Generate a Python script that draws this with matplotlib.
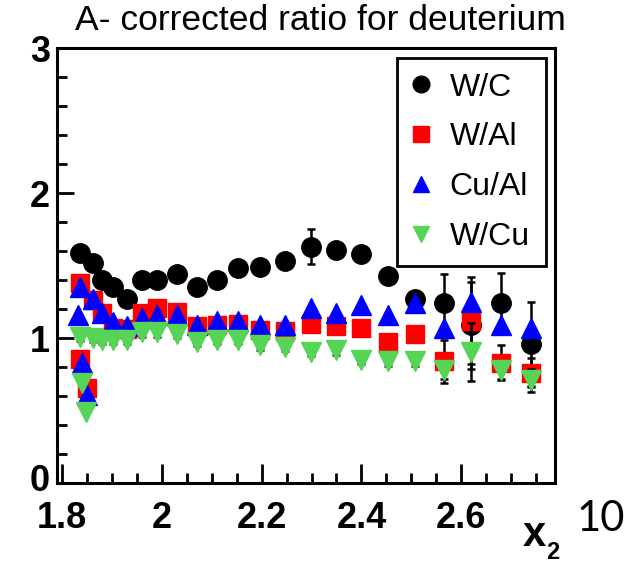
import matplotlib
matplotlib.use("Agg")
import matplotlib.pyplot as plt
from matplotlib import font_manager
from matplotlib.lines import Line2D
from matplotlib.ticker import MultipleLocator
from matplotlib.transforms import ScaledTranslation

# bin centres shared by all four ratios
x_bins = [1.837, 1.863, 1.880, 1.903, 1.930, 1.960, 1.990, 2.030, 2.070, 2.110, 2.153,
          2.197, 2.247, 2.298, 2.350, 2.400, 2.453, 2.507, 2.565, 2.620, 2.680, 2.740]

w_c = [1.59, 1.52, 1.40, 1.35, 1.27, 1.40, 1.40, 1.44, 1.35, 1.40, 1.48,
       1.49, 1.53, 1.63, 1.61, 1.58, 1.43, 1.27, 1.24, 1.09, 1.24, 0.96]
w_c_err = [0.03, 0.03, 0.03, 0.03, 0.03, 0.03, 0.03, 0.03, 0.03, 0.03, 0.03,
           0.03, 0.03, 0.12, 0.04, 0.04, 0.05, 0.05, 0.20, 0.30, 0.21, 0.29]

w_al = [1.38, 1.26, 1.17, 1.07, 1.06, 1.17, 1.21, 1.18, 1.08, 1.09, 1.10,
        1.055, 1.05, 1.10, 1.08, 1.07, 0.975, 1.03, 0.84, 1.12, 0.83, 0.76]
w_al_err = [0.03, 0.03, 0.03, 0.03, 0.03, 0.03, 0.03, 0.03, 0.03, 0.03, 0.03,
            0.03, 0.03, 0.03, 0.03, 0.03, 0.03, 0.04, 0.15, 0.30, 0.12, 0.10]

cu_al = [1.35, 1.27, 1.17, 1.11, 1.08, 1.14, 1.16, 1.16, 1.09, 1.12, 1.12,
         1.09, 1.09, 1.205, 1.17, 1.23, 1.16, 1.24, 1.07, 1.25, 1.09, 1.07]

w_cu = [1.01, 1.00, 0.99, 0.99, 0.99, 1.04, 1.04, 1.03, 0.975, 0.99, 0.99,
        0.95, 0.94, 0.905, 0.915, 0.85, 0.84, 0.84, 0.78, 0.905, 0.78, 0.71]
w_cu_err = [0.03, 0.03, 0.03, 0.03, 0.03, 0.03, 0.03, 0.03, 0.03, 0.03, 0.03,
            0.03, 0.03, 0.03, 0.03, 0.03, 0.03, 0.03, 0.06, 0.20, 0.06, 0.08]

# extra low points in the first bins
w_al_low_x = [1.837, 1.850]
w_al_low = [0.855, 0.655]
cu_al_low_x = [1.833, 1.840, 1.850]
cu_al_low = [1.16, 0.826, 0.607]
w_cu_low_x = [1.840, 1.849]
w_cu_low = [0.688, 0.49]

green = "#55d455"


def pick_font(names):
    for name in names:
        try:
            font_manager.findfont(name, fallback_to_default=False)
            return name
        except ValueError:
            pass
    return "DejaVu Sans"


narrow = pick_font(["Liberation Sans Narrow", "Liberation Sans", "Arial"])
regular = pick_font(["Liberation Sans", "Arial"])

fig = plt.figure(figsize=(6.41, 5.64), dpi=100)
ax = fig.add_axes([0.0885, 0.1436, 0.777, 0.771])

eb = dict(capsize=3, elinewidth=1.8, capthick=1.8, ecolor="black")
ax.errorbar(x_bins, w_c, yerr=w_c_err, fmt="o", color="black", ms=14, zorder=2, **eb)
ax.errorbar(x_bins, w_al, yerr=w_al_err, fmt="s", color="red", ms=13, zorder=3, **eb)
ax.plot(w_al_low_x, w_al_low, "s", color="red", ms=13, zorder=3)
ax.plot(x_bins, cu_al, "^", color="blue", ms=15, zorder=4)
ax.plot(cu_al_low_x, cu_al_low, "^", color="blue", ms=15, zorder=4)
ax.errorbar(x_bins, w_cu, yerr=w_cu_err, fmt="v", color=green, ms=15, zorder=5, **eb)
ax.plot(w_cu_low_x, w_cu_low, "v", color=green, ms=15, zorder=5)

ax.set_xlim(1.79, 2.787)
ax.set_ylim(0, 3)
ax.xaxis.set_minor_locator(MultipleLocator(0.05))
ax.yaxis.set_minor_locator(MultipleLocator(0.2))
ax.set_xticks([1.8, 2.0, 2.2, 2.4, 2.6])
ax.set_xticklabels(["1.8", "2", "2.2", "2.4", "2.6"])
ax.set_yticks([0, 1, 2, 3])
ax.set_yticklabels(["0", "1", "2", "3"])
ax.tick_params(which="both", direction="in", top=False, right=False, width=2)
ax.tick_params(axis="x", which="major", length=14, labelsize=26, pad=13)
ax.tick_params(axis="y", which="major", length=12, labelsize=26, pad=5)
ax.tick_params(which="minor", length=7)
for lab in ax.get_xticklabels() + ax.get_yticklabels():
    lab.set_family(narrow)
    lab.set_fontweight("bold")
# lift the "0" a little so it clears the "1.8" below it
zero = ax.get_yticklabels()[0]
zero.set_transform(zero.get_transform() + ScaledTranslation(0, 4 / 72, fig.dpi_scale_trans))
for sp in ax.spines.values():
    sp.set_linewidth(2.2)

handles = [
    Line2D([], [], ls="none", marker="o", color="black", ms=12),
    Line2D([], [], ls="none", marker="s", color="red", ms=12),
    Line2D([], [], ls="none", marker="^", color="blue", ms=12),
    Line2D([], [], ls="none", marker="v", color=green, ms=12),
]
labels = ["W/C", "W/Al", "Cu/Al", "W/Cu"]
leg = ax.legend(handles, labels, loc="upper left", mode="expand",
                bbox_to_anchor=(0.683, 0.501, 0.299, 0.476), borderaxespad=0,
                frameon=True, fancybox=False, edgecolor="black", framealpha=1,
                handlelength=0.6, handletextpad=0.6, labelspacing=0.62, borderpad=0.45,
                prop={"family": regular, "size": 23})
leg.get_frame().set_linewidth(2)

fig.text(0.5, 0.963, "A- corrected ratio for deuterium", ha="center", va="center",
         fontsize=25.5, family=narrow)
fig.text(0.834, 0.052, "x", ha="center", va="center", fontsize=30,
         fontweight="bold", family=narrow)
fig.text(0.863, 0.02, "2", ha="center", va="center", fontsize=17,
         fontweight="bold", family=narrow)
fig.text(0.937, 0.08, "10", ha="center", va="center", fontsize=30, family="Lato")

fig.savefig("out.png", dpi=100)
